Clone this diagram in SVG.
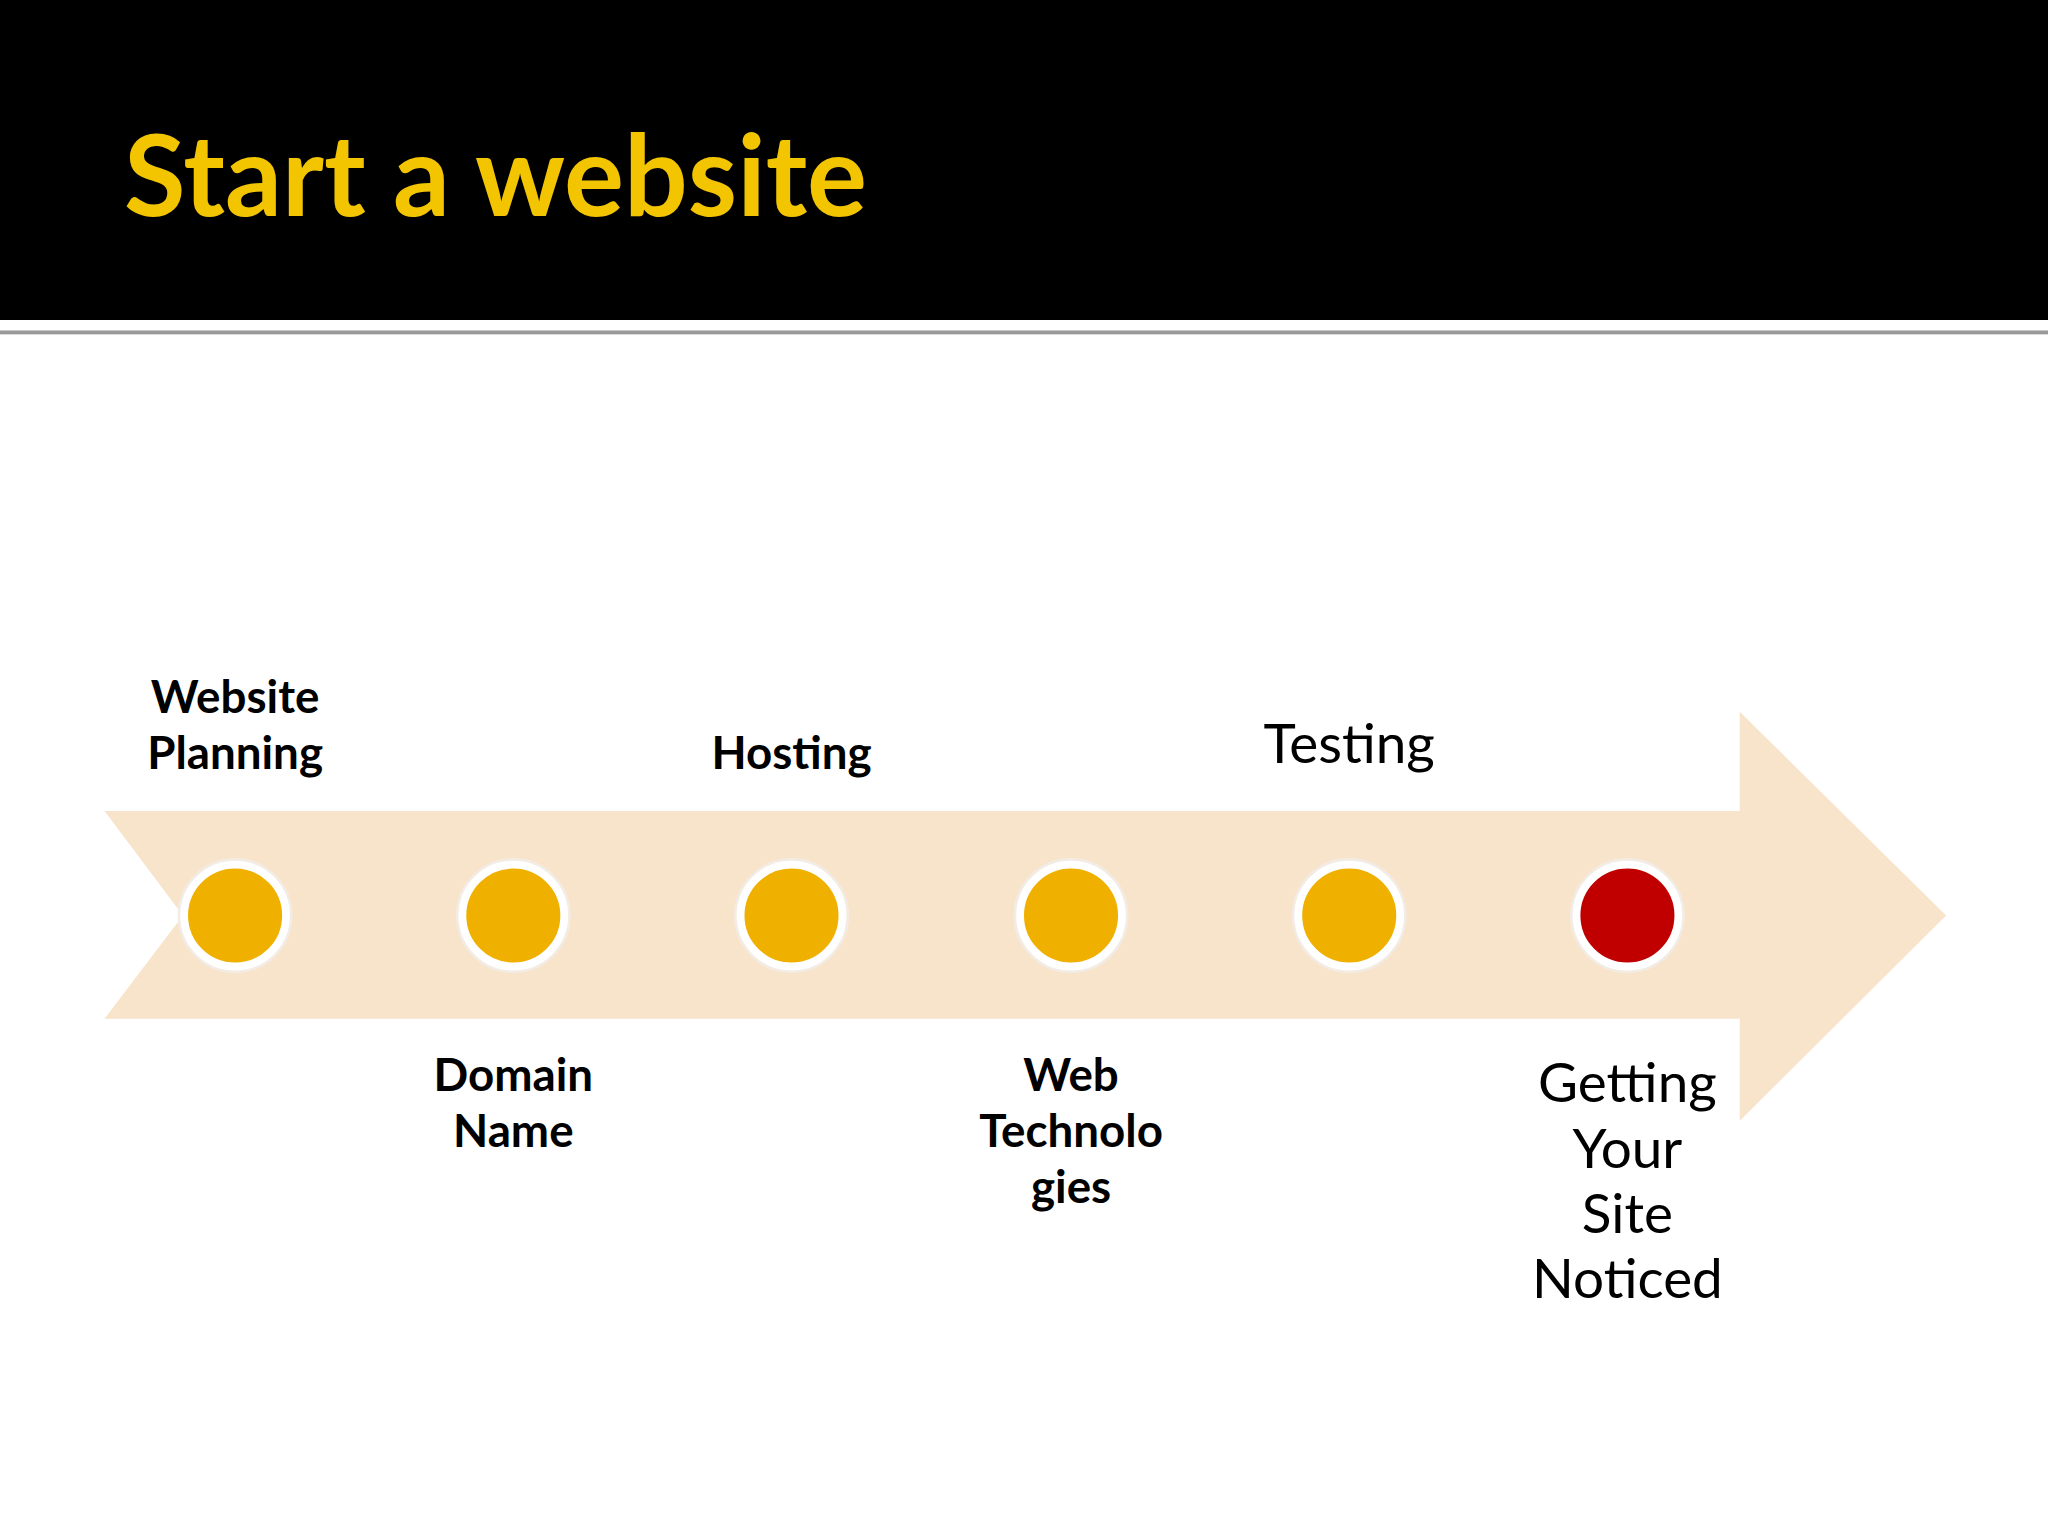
<svg xmlns="http://www.w3.org/2000/svg" width="2048" height="1536" viewBox="0 0 2048 1536">
<style>
.b{font-family:"Lato","Open Sans",sans-serif;font-weight:bold;font-size:35px;fill:#000;text-anchor:middle}
.r{font-family:"Lato","Open Sans",sans-serif;font-size:42px;fill:#000;text-anchor:middle}
.ring{fill:#fff;stroke:#f3ece4;stroke-width:2}
.y{fill:#f0b000;stroke:#fff;stroke-width:2}
</style>
<rect width="2048" height="1536" fill="#fff"/>
<g transform="scale(1.30612)">
<rect x="0" y="0" width="1568" height="245" fill="#000"/>
<rect x="0" y="253" width="1568" height="3" fill="#999"/>
<text x="95" y="165" font-family="Lato,'Open Sans',sans-serif" font-weight="bold" font-size="86" fill="#f2c500">Start a website</text>
<g id="arrow"><polygon points="80,621 1332,621 1332,545 1490,701 1332,858 1332,780 80,780 140,701" fill="#f8e3cb"/></g>
<g id="connectors"></g>
<g id="n1"><circle cx="180" cy="701" r="43" class="ring"/><circle cx="180" cy="701" r="37" class="y"/><text class="b" x="180" y="546">Website</text><text class="b" x="180" y="589">Planning</text></g>
<g id="n2"><circle cx="393" cy="701" r="43" class="ring"/><circle cx="393" cy="701" r="37" class="y"/><text class="b" x="393" y="835">Domain</text><text class="b" x="393" y="878">Name</text></g>
<g id="n3"><circle cx="606" cy="701" r="43" class="ring"/><circle cx="606" cy="701" r="37" class="y"/><text class="b" x="606" y="589">Hosting</text></g>
<g id="n4"><circle cx="820" cy="701" r="43" class="ring"/><circle cx="820" cy="701" r="37" class="y"/><text class="b" x="820" y="835">Web</text><text class="b" x="820" y="878">Technolo</text><text class="b" x="820" y="921">gies</text></g>
<g id="n5"><circle cx="1033" cy="701" r="43" class="ring"/><circle cx="1033" cy="701" r="37" class="y"/><text class="r" x="1033" y="584">Testing</text></g>
<g id="n6"><circle cx="1246" cy="701" r="43" class="ring"/><circle cx="1246" cy="701" r="37" fill="#c00000" stroke="#fff" stroke-width="2"/><text class="r" x="1246" y="844">Getting</text><text class="r" x="1246" y="894">Your</text><text class="r" x="1246" y="944">Site</text><text class="r" x="1246" y="994">Noticed</text></g>
</g>
</svg>
